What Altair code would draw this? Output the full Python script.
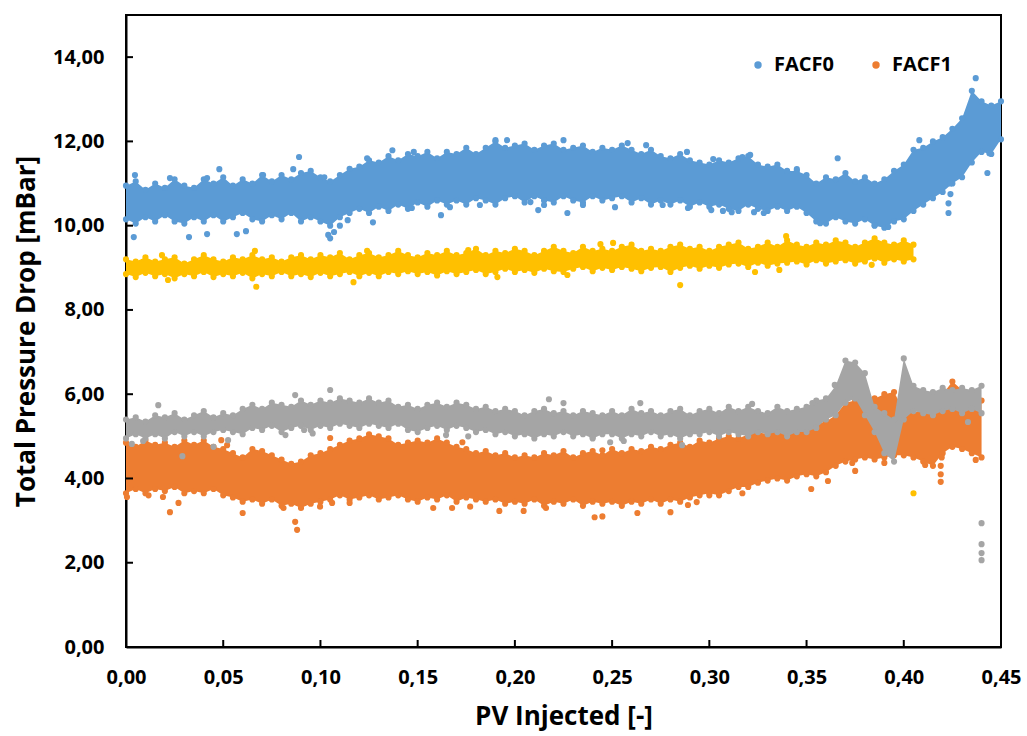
import altair as alt
import pandas as pd

STEP = 0.005
FONT = "Open Sans"

# ---- tick values ----
x_ticks = [0.00, 0.05, 0.10, 0.15, 0.20, 0.25, 0.30, 0.35, 0.40, 0.45]
y_ticks = [0, 2, 4, 6, 8, 10, 12, 14]

# ---- series names / colours ----
series_names = ["FACF0", "FACF1", "Series3", "Series4"]
series_colors = ["#5B9BD5", "#ED7D31", "#FFC000", "#A5A5A5"]

# ---- FACF0 (blue): envelope read every 0.005 from 0.000 to 0.450 ----
blue_hi = [10.95, 11.05, 10.85, 11.0, 10.9, 11.1, 10.95, 10.9, 11.1, 11.0,
           11.15, 10.95, 11.1, 11.0, 11.2, 11.05, 11.2, 11.1, 11.25, 11.3,
           11.15, 11.05, 11.2, 11.35, 11.4, 11.55, 11.5, 11.65, 11.55, 11.7,
           11.65, 11.75, 11.6, 11.75, 11.7, 11.85, 11.7, 11.85, 12.0, 11.85,
           11.9, 11.95, 11.8, 11.9, 11.95, 11.8, 11.85, 11.9, 11.75, 11.85,
           11.8, 11.9, 11.8, 11.7, 11.8, 11.65, 11.6, 11.7, 11.55, 11.5,
           11.45, 11.55, 11.5, 11.6, 11.65, 11.45, 11.4, 11.45, 11.3, 11.3,
           11.2, 11.0, 11.15, 11.1, 11.25, 11.05, 11.15, 11.0, 11.1, 11.3,
           11.45, 11.8, 11.85, 12.0, 12.1, 12.3, 12.55, 13.2, 12.95, 12.85,
           12.95]
blue_lo = [10.15, 10.05, 10.2, 10.1, 10.25, 10.1, 10.05, 10.2, 10.1, 10.25,
           10.1, 10.2, 10.3, 10.15, 10.1, 10.25, 10.15, 10.3, 10.1, 10.2,
           10.1, 10.0, 10.2, 10.3, 10.4, 10.3, 10.45, 10.35, 10.5, 10.4,
           10.55, 10.45, 10.6, 10.5, 10.6, 10.5, 10.65, 10.6, 10.5, 10.65,
           10.7, 10.55, 10.7, 10.6, 10.55, 10.7, 10.6, 10.55, 10.7, 10.6,
           10.65, 10.7, 10.55, 10.65, 10.5, 10.6, 10.5, 10.6, 10.45, 10.55,
           10.45, 10.5, 10.4, 10.35, 10.5, 10.4, 10.35, 10.45, 10.35, 10.45,
           10.3, 10.1, 10.05, 10.2, 10.1, 10.05, 10.15, 10.0, 9.95, 10.1,
           10.15, 10.35, 10.5, 10.65, 10.8, 11.0, 11.15, 11.5, 11.75, 11.7,
           12.05]
blue_out_x = [0.0046, 0.004, 0.0226, 0.0324, 0.0417, 0.0417, 0.048, 0.057, 0.0617, 0.0705,
              0.086, 0.089, 0.102, 0.104, 0.105, 0.107, 0.110, 0.114, 0.124, 0.127,
              0.137, 0.147, 0.148, 0.162, 0.1666, 0.182, 0.190, 0.196, 0.208, 0.212,
              0.215, 0.225, 0.227, 0.235, 0.2515, 0.258, 0.2675, 0.276, 0.2885, 0.289,
              0.301, 0.302, 0.307, 0.3115, 0.317, 0.321, 0.323, 0.328, 0.345, 0.357,
              0.366, 0.385, 0.392, 0.408, 0.423, 0.423, 0.424, 0.424, 0.437, 0.443, 0.444]
blue_out_y = [11.2, 9.73, 11.13, 9.73, 11.13, 9.8, 11.34, 9.8, 9.87, 11.2,
              11.34, 11.63, 11.15, 9.78, 9.7, 9.85, 10.0, 10.13, 11.6, 10.08,
              11.79, 10.42, 11.75, 10.25, 10.44, 10.49, 12.03, 12.03, 10.56, 10.37,
              10.49, 12.03, 10.3, 10.49, 10.44, 11.96, 11.91, 10.49, 11.75, 10.42,
              10.37, 11.58, 10.35, 10.32, 11.63, 11.68, 10.32, 10.3, 11.34, 10.06,
              11.6, 10.01, 9.97, 12.03, 10.3, 10.53, 10.75, 11.0, 13.5, 11.25, 11.72]

# ---- Series 3 (yellow): 0.000 to 0.405 ----
yellow_hi = [9.2, 9.15, 9.25, 9.15, 9.2, 9.25, 9.1, 9.2, 9.3, 9.2,
             9.15, 9.25, 9.2, 9.3, 9.2, 9.25, 9.15, 9.25, 9.3, 9.2,
             9.3, 9.25, 9.35, 9.2, 9.3, 9.35, 9.25, 9.3, 9.4, 9.3,
             9.25, 9.35, 9.3, 9.4, 9.3, 9.35, 9.45, 9.3, 9.4, 9.35,
             9.45, 9.4, 9.3, 9.4, 9.5, 9.4, 9.35, 9.5, 9.4, 9.45,
             9.4, 9.5, 9.55, 9.4, 9.45, 9.4, 9.5, 9.55, 9.45, 9.5,
             9.4, 9.5, 9.55, 9.6, 9.45, 9.5, 9.6, 9.5, 9.65, 9.55,
             9.5, 9.6, 9.55, 9.65, 9.6, 9.5, 9.6, 9.7, 9.6, 9.55,
             9.65, 9.55]
yellow_lo = [8.85, 8.78, 8.88, 8.8, 8.85, 8.75, 8.85, 8.8, 8.9, 8.78,
             8.85, 8.8, 8.88, 8.75, 8.85, 8.8, 8.9, 8.8, 8.85, 8.78,
             8.88, 8.8, 8.85, 8.9, 8.8, 8.88, 8.8, 8.9, 8.85, 8.92,
             8.85, 8.9, 8.82, 8.92, 8.85, 8.9, 8.95, 8.85, 8.9, 8.98,
             8.9, 8.95, 8.88, 8.98, 8.92, 8.9, 8.98, 9.02, 8.92, 9.0,
             8.95, 9.02, 8.98, 8.92, 9.0, 9.02, 8.9, 9.0, 9.05, 8.98,
             9.05, 9.0, 9.08, 9.1, 9.02, 9.12, 9.05, 9.1, 9.12, 9.15,
             9.08, 9.18, 9.1, 9.15, 9.18, 9.1, 9.15, 9.22, 9.12, 9.2,
             9.15, 9.2]
yellow_out_x = [0.0185, 0.0216, 0.0663, 0.067, 0.117, 0.124, 0.176, 0.191, 0.227, 0.244,
                0.2505, 0.285, 0.3235, 0.336, 0.3395, 0.3835, 0.405]
yellow_out_y = [9.3, 8.71, 9.4, 8.55, 8.66, 9.4, 9.42, 8.78, 8.83, 9.56,
                9.59, 8.59, 8.9, 8.95, 9.75, 9.07, 3.65]

# ---- FACF1 (orange): 0.000 to 0.440 ----
orange_hi = [4.85, 4.75, 4.9, 4.8, 4.85, 4.75, 4.9, 4.8, 4.9, 4.75,
             4.7, 4.6, 4.5, 4.7, 4.65, 4.55, 4.45, 4.35, 4.4, 4.55,
             4.6, 4.7, 4.8, 4.9, 4.95, 5.05, 5.0, 4.95, 4.8, 4.85,
             4.9, 4.85, 4.95, 4.85, 4.75, 4.7, 4.6, 4.65, 4.55, 4.6,
             4.5, 4.55, 4.5, 4.6, 4.55, 4.65, 4.5, 4.6, 4.65, 4.55,
             4.7, 4.6, 4.7, 4.65, 4.75, 4.7, 4.8, 4.85, 4.75, 4.9,
             4.85, 4.95, 5.0, 4.95, 5.05, 5.1, 5.05, 5.15, 5.1, 5.2,
             5.2, 5.3, 5.35, 5.5, 5.8, 5.85, 5.95, 5.9, 6.0, 6.05,
             5.6, 5.55, 5.65, 5.7, 6.0, 6.3, 6.1, 5.95, 5.85]
orange_lo = [3.65, 3.75, 3.65, 3.75, 3.7, 3.8, 3.65, 3.7, 3.65, 3.75,
             3.6, 3.55, 3.45, 3.5, 3.4, 3.5, 3.35, 3.4, 3.3, 3.4,
             3.45, 3.5, 3.6, 3.5, 3.55, 3.6, 3.5, 3.55, 3.6, 3.5,
             3.45, 3.55, 3.5, 3.6, 3.45, 3.55, 3.5, 3.45, 3.5, 3.4,
             3.45, 3.4, 3.5, 3.35, 3.45, 3.4, 3.5, 3.35, 3.45, 3.4,
             3.45, 3.35, 3.45, 3.4, 3.5, 3.4, 3.5, 3.45, 3.55, 3.6,
             3.65, 3.6, 3.7, 3.8, 3.8, 3.9, 3.95, 4.0, 3.95, 4.05,
             4.1, 4.05, 4.15, 4.3, 4.4, 4.45, 4.5, 4.45, 4.5, 4.55,
             4.55, 4.5, 4.4, 4.3, 4.6, 4.75, 4.7, 4.6, 4.5]
orange_out_x = [0.0005, 0.0116, 0.019, 0.0226, 0.027, 0.049, 0.052, 0.060, 0.081, 0.087,
                0.088, 0.0998, 0.105, 0.106, 0.115, 0.158, 0.1677, 0.173, 0.177, 0.192,
                0.2045, 0.216, 0.241, 0.245, 0.245, 0.263, 0.280, 0.289, 0.2935, 0.300,
                0.317, 0.3524, 0.361, 0.3735, 0.375, 0.390, 0.411, 0.419, 0.419, 0.419,
                0.4195, 0.437]
orange_out_y = [3.56, 3.6, 3.56, 3.2, 3.42, 4.91, 4.79, 3.18, 3.3, 2.97,
                2.78, 3.33, 4.96, 3.42, 3.42, 3.3, 3.3, 4.86, 3.33, 3.23,
                3.23, 3.3, 3.08, 3.1, 4.67, 3.18, 3.2, 3.37, 3.44, 3.6,
                3.65, 3.75, 3.94, 4.37, 4.18, 4.37, 4.32, 3.92, 4.1, 4.3,
                4.5, 4.44]

# ---- Series 4 (gray): 0.000 to 0.440 ----
gray_hi = [5.4, 5.45, 5.35, 5.5, 5.45, 5.55, 5.4, 5.5, 5.6, 5.45,
           5.55, 5.5, 5.65, 5.75, 5.65, 5.8, 5.75, 5.7, 5.85, 5.75,
           5.85, 5.8, 5.9, 5.85, 5.8, 5.9, 5.8, 5.85, 5.7, 5.75,
           5.65, 5.75, 5.8, 5.7, 5.8, 5.75, 5.65, 5.7, 5.6, 5.65,
           5.6, 5.5, 5.6, 5.65, 5.55, 5.6, 5.5, 5.6, 5.55, 5.5,
           5.6, 5.5, 5.65, 5.55, 5.6, 5.5, 5.6, 5.65, 5.5, 5.6,
           5.65, 5.55, 5.7, 5.6, 5.7, 5.6, 5.55, 5.7, 5.6, 5.65,
           5.7, 5.85, 5.9, 6.2, 6.8, 6.75, 6.5, 5.7, 5.55, 5.4,
           6.85, 6.2, 6.1, 6.05, 6.15, 6.1, 6.15, 6.1, 6.2]
gray_lo = [4.95, 5.05, 4.95, 5.05, 4.95, 5.1, 5.0, 5.1, 5.0, 5.1,
           5.15, 5.1, 5.05, 5.2, 5.15, 5.25, 5.1, 5.2, 5.25, 5.15,
           5.25, 5.2, 5.3, 5.25, 5.2, 5.3, 5.25, 5.2, 5.3, 5.15,
           5.1, 5.2, 5.25, 5.15, 5.25, 5.2, 5.1, 5.15, 5.05, 5.1,
           5.0, 5.05, 4.95, 5.05, 5.0, 5.1, 5.0, 5.05, 4.95, 5.05,
           5.05, 4.95, 5.05, 5.0, 5.1, 5.0, 5.05, 4.95, 5.05, 5.05,
           5.1, 5.0, 5.1, 5.05, 5.0, 5.1, 5.05, 5.1, 5.0, 5.1,
           5.1, 5.2, 5.4, 5.5, 5.8, 5.9, 5.5, 5.1, 4.6, 4.4,
           5.4, 5.6, 5.55, 5.5, 5.6, 5.65, 5.55, 5.65, 5.55]
gray_out_x = [0.003, 0.0088, 0.0166, 0.029, 0.045, 0.0525, 0.082, 0.087, 0.0916, 0.096,
              0.105, 0.1646, 0.176, 0.2175, 0.225, 0.240, 0.249, 0.256, 0.2645, 0.286,
              0.322, 0.353, 0.3645, 0.433, 0.440, 0.440, 0.440, 0.440]
gray_out_y = [4.82, 4.89, 5.74, 4.53, 4.75, 4.91, 5.03, 5.98, 5.15, 5.07,
              6.1, 5.03, 5.0, 5.88, 5.79, 4.98, 4.86, 4.89, 5.79, 4.79,
              5.77, 5.79, 6.22, 5.34, 2.94, 2.44, 2.23, 2.06]


def band_frame(name, lo, hi):
    return pd.DataFrame({
        "x": [round(i * STEP, 3) for i in range(len(lo))],
        "lo": lo, "hi": hi, "series": name,
    })


def point_frame(name, lo, hi, ox, oy):
    xs = [round(i * STEP, 3) for i in range(len(lo))]
    return pd.DataFrame({
        "x": xs + xs + list(ox),
        "y": list(lo) + list(hi) + list(oy),
        "series": name,
    })


x_scale = alt.Scale(domain=[0, 0.45], nice=False, zero=False)
y_scale = alt.Scale(domain=[0, 15], nice=False, zero=False)
c_scale = alt.Scale(domain=series_names, range=series_colors)

label_expr = "replace(format(datum.value, '.2f'), '.', ',')"

x_axis = alt.Axis(values=x_ticks, labelExpr=label_expr, title="PV Injected [-]",
                  tickSize=0, labelPadding=20, grid=False,
                  domainColor="black", domainWidth=2,
                  labelFont=FONT, labelFontWeight="bold", labelFontSize=20, labelColor="black",
                  titleFont=FONT, titleFontWeight="bold", titleFontSize=26, titleColor="black",
                  titlePadding=16, labelFlush=False)
y_axis = alt.Axis(values=y_ticks, labelExpr=label_expr, title="Total Pressure Drop [mBar]",
                  tickSize=0, labelPadding=22, grid=False,
                  domainColor="black", domainWidth=2,
                  labelFont=FONT, labelFontWeight="bold", labelFontSize=20, labelColor="black",
                  titleFont=FONT, titleFontWeight="bold", titleFontSize=26, titleColor="black",
                  titlePadding=13, labelFlush=False)

legend = alt.Legend(values=["FACF0", "FACF1"], orient="none", legendX=622, legendY=40,
                    direction="horizontal", title=None, symbolType="circle", symbolSize=55,
                    symbolStrokeWidth=0, symbolOpacity=1,
                    labelFont=FONT, labelFontWeight="bold", labelFontSize=20, labelColor="black",
                    labelOffset=6, columnPadding=32)

layers = []
specs = [
    ("FACF0", blue_lo, blue_hi, blue_out_x, blue_out_y),
    ("Series3", yellow_lo, yellow_hi, yellow_out_x, yellow_out_y),
    ("FACF1", orange_lo, orange_hi, orange_out_x, orange_out_y),
    ("Series4", gray_lo, gray_hi, gray_out_x, gray_out_y),
]
for name, lo, hi, ox, oy in specs:
    area = alt.Chart(band_frame(name, lo, hi)).mark_area(opacity=1, clip=False).encode(
        x=alt.X("x:Q", scale=x_scale, axis=x_axis),
        y=alt.Y("lo:Q", scale=y_scale, axis=y_axis, stack=None),
        y2="hi:Q",
        color=alt.Color("series:N", scale=c_scale, legend=legend),
    )
    pts = alt.Chart(point_frame(name, lo, hi, ox, oy)).mark_circle(size=38, opacity=1, clip=False).encode(
        x=alt.X("x:Q", scale=x_scale, axis=x_axis),
        y=alt.Y("y:Q", scale=y_scale, axis=y_axis),
        color=alt.Color("series:N", scale=c_scale, legend=legend),
    )
    layers += [area, pts]

xt = pd.DataFrame({"x": x_ticks[1:-1]})
yt = pd.DataFrame({"y": y_ticks[1:]})
x_tick_marks = alt.Chart(xt).mark_rule(color="black", strokeWidth=2).encode(
    x=alt.X("x:Q", scale=x_scale, axis=x_axis), y=alt.value(632), y2=alt.value(625))
y_tick_marks = alt.Chart(yt).mark_rule(color="black", strokeWidth=2).encode(
    y=alt.Y("y:Q", scale=y_scale, axis=y_axis), x=alt.value(0), x2=alt.value(7))

chart = alt.layer(*layers, x_tick_marks, y_tick_marks).properties(
    width=875, height=632,
    autosize=alt.AutoSizeParams(type="none"),
    padding={"left": 126, "top": 15, "right": 26, "bottom": 89},
    background="white",
).configure_view(stroke="black", strokeWidth=2)

chart.save("out.html", embed_options={"renderer": "svg", "actions": False})
